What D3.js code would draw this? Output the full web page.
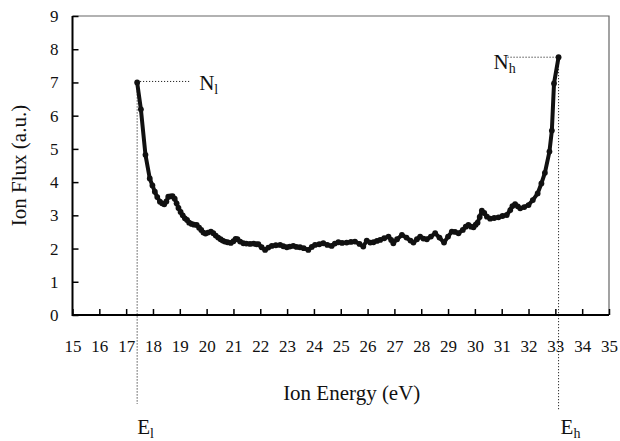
<!DOCTYPE html>
<html>
<head>
<meta charset="utf-8">
<script src="https://cdn.jsdelivr.net/npm/d3@7"></script>
<style>
  body { margin: 0; background: #fff; }
  svg text { font-family: "Liberation Serif", "Times New Roman", serif; }
  .axis path { display: none; }
  .axis line { stroke: #000; stroke-width: 1.5; }
  .axis text { font-size: 17px; fill: #111; }
</style>
</head>
<body>
<script>
// ion energy distribution
const energy = [
  17.41, 17.55, 17.72, 17.88, 17.98, 18.07, 18.16, 18.26, 18.34, 18.42,
  18.50, 18.57, 18.65, 18.73, 18.81, 18.88, 18.95, 19.03, 19.11, 19.19,
  19.27, 19.35, 19.44, 19.53, 19.63, 19.72, 19.80, 19.88, 19.96, 20.05,
  20.16, 20.25, 20.34, 20.43, 20.52, 20.60, 20.68, 20.78, 20.90, 21.00,
  21.08, 21.15, 21.25, 21.37, 21.48, 21.62, 21.75, 21.85, 21.93, 22.05,
  22.18, 22.30, 22.43, 22.58, 22.74, 22.86, 22.99, 23.10, 23.23, 23.35,
  23.48, 23.62, 23.79, 23.92, 24.04, 24.20, 24.35, 24.50, 24.66, 24.78,
  24.91, 25.05, 25.22, 25.38, 25.53, 25.70, 25.84, 25.97, 26.10, 26.22,
  26.35, 26.47, 26.62, 26.78, 26.88, 26.96, 27.10, 27.28, 27.45, 27.60,
  27.71, 27.84, 27.96, 28.08, 28.21, 28.36, 28.52, 28.68, 28.85, 29.00,
  29.14, 29.26, 29.39, 29.55, 29.66, 29.76, 29.86, 29.95, 30.03, 30.10,
  30.18, 30.26, 30.35, 30.45, 30.57, 30.72, 30.88, 31.03, 31.19, 31.32,
  31.40, 31.50, 31.60, 31.69, 31.84, 32.00, 32.16, 32.34, 32.48, 32.61,
  32.78, 32.87, 32.95, 33.12
];
const flux = [
  7.00, 6.19, 4.82, 4.11, 3.90, 3.71, 3.55, 3.41, 3.36, 3.33,
  3.42, 3.56, 3.57, 3.58, 3.50, 3.36, 3.22, 3.10, 3.00, 2.91,
  2.86, 2.78, 2.74, 2.72, 2.71, 2.63, 2.56, 2.48, 2.45, 2.48,
  2.51, 2.46, 2.39, 2.33, 2.28, 2.24, 2.21, 2.19, 2.17, 2.22,
  2.29, 2.28, 2.21, 2.16, 2.15, 2.14, 2.15, 2.13, 2.13, 2.04,
  1.96, 2.03, 2.08, 2.10, 2.11, 2.07, 2.04, 2.06, 2.08, 2.05,
  2.04, 2.01, 1.96, 2.05, 2.11, 2.13, 2.16, 2.11, 2.08, 2.15,
  2.19, 2.17, 2.18, 2.20, 2.21, 2.14, 2.06, 2.24, 2.18, 2.19,
  2.23, 2.26, 2.31, 2.36, 2.26, 2.16, 2.28, 2.41, 2.33, 2.24,
  2.18, 2.28, 2.36, 2.30, 2.28, 2.36, 2.46, 2.33, 2.18, 2.36,
  2.51, 2.50, 2.46, 2.56, 2.66, 2.71, 2.66, 2.64, 2.72, 2.78,
  2.95, 3.14, 3.07, 2.96, 2.90, 2.92, 2.94, 2.98, 3.01, 3.16,
  3.28, 3.34, 3.27, 3.21, 3.25, 3.31, 3.46, 3.66, 3.96, 4.28,
  4.92, 5.55, 6.97, 7.76
];
const xTicks = d3.range(15, 36);
const yTicks = d3.range(0, 10);

const width = 620, height = 441;
const margin = {top: 16, right: 11, bottom: 126, left: 72.5};

const svg = d3.select(document.body).append('svg')
  .attr('width', width)
  .attr('height', height);

const x = d3.scaleLinear().domain([15, 35]).range([margin.left, width - margin.right]);
const y = d3.scaleLinear().domain([0, 9]).range([height - margin.bottom, margin.top]);

const data = energy.map((e, i) => ({e, f: flux[i]}));

// frame: light top/right, heavy left/bottom
svg.append('path')
  .attr('d', `M${x(15)},${y(9)}H${x(35)}V${y(0)}`)
  .attr('fill', 'none')
  .attr('stroke', '#666')
  .attr('stroke-width', 1.2);

svg.append('g')
  .attr('class', 'axis')
  .attr('transform', `translate(0,${y(0)})`)
  .call(d3.axisBottom(x).tickValues(xTicks).tickSize(-6).tickPadding(25).tickFormat(d3.format('d')));

svg.append('g')
  .attr('class', 'axis')
  .attr('transform', `translate(${x(15)},0)`)
  .call(d3.axisLeft(y).tickValues(yTicks).tickSize(-6).tickPadding(14).tickFormat(d3.format('d')));

svg.append('path')
  .attr('d', `M${x(15)},${y(9)}V${y(0)}H${x(35)}`)
  .attr('fill', 'none')
  .attr('stroke', '#000')
  .attr('stroke-width', 2);

// dotted markers for the end points
const first = data[0], last = data[data.length - 1];
const dots = svg.append('g')
  .attr('fill', 'none')
  .attr('stroke', '#000')
  .attr('stroke-width', 1)
  .attr('stroke-dasharray', '1,2');
dots.append('line')
  .attr('x1', x(first.e)).attr('x2', x(first.e))
  .attr('y1', y(first.f)).attr('y2', 404);
dots.append('line')
  .attr('x1', x(last.e)).attr('x2', x(last.e))
  .attr('y1', y(last.f)).attr('y2', 411);
dots.append('line')
  .attr('x1', x(first.e)).attr('x2', x(first.e) + 53)
  .attr('y1', y(first.f) - 1).attr('y2', y(first.f) - 1);
dots.append('line')
  .attr('x1', x(last.e) - 51).attr('x2', x(last.e))
  .attr('y1', y(last.f)).attr('y2', y(last.f));

// the curve
const line = d3.line()
  .x(d => x(d.e))
  .y(d => y(d.f));

svg.append('path')
  .datum(data)
  .attr('d', line)
  .attr('fill', 'none')
  .attr('stroke', '#111')
  .attr('stroke-width', 4)
  .attr('stroke-linejoin', 'round');

svg.append('g').selectAll('circle')
  .data(data)
  .enter().append('circle')
  .attr('cx', d => x(d.e))
  .attr('cy', d => y(d.f))
  .attr('r', 2.9)
  .attr('fill', '#111');

// axis titles
svg.append('text')
  .attr('x', (x(15) + x(35)) / 2 + 11)
  .attr('y', 400)
  .attr('text-anchor', 'middle')
  .style('font-size', '21px')
  .attr('fill', '#111')
  .text('Ion Energy (eV)');

svg.append('text')
  .attr('transform', `translate(26,${(y(0) + y(9)) / 2}) rotate(-90)`)
  .attr('text-anchor', 'middle')
  .style('font-size', '21px')
  .attr('fill', '#111')
  .text('Ion Flux (a.u.)');

// subscripted labels
const label = (px, py, main, sub) => {
  const t = svg.append('text')
    .attr('x', px).attr('y', py)
    .style('font-size', '21px')
    .attr('fill', '#111');
  t.append('tspan').text(main);
  t.append('tspan').attr('dy', 4).style('font-size', '14px').text(sub);
};
label(x(first.e) + 62, y(first.f) + 8, 'N', 'l');
label(x(last.e) - 65, y(last.f) + 12, 'N', 'h');
label(x(first.e), 434, 'E', 'l');
label(x(last.e) + 2, 434, 'E', 'h');
</script>
</body>
</html>
